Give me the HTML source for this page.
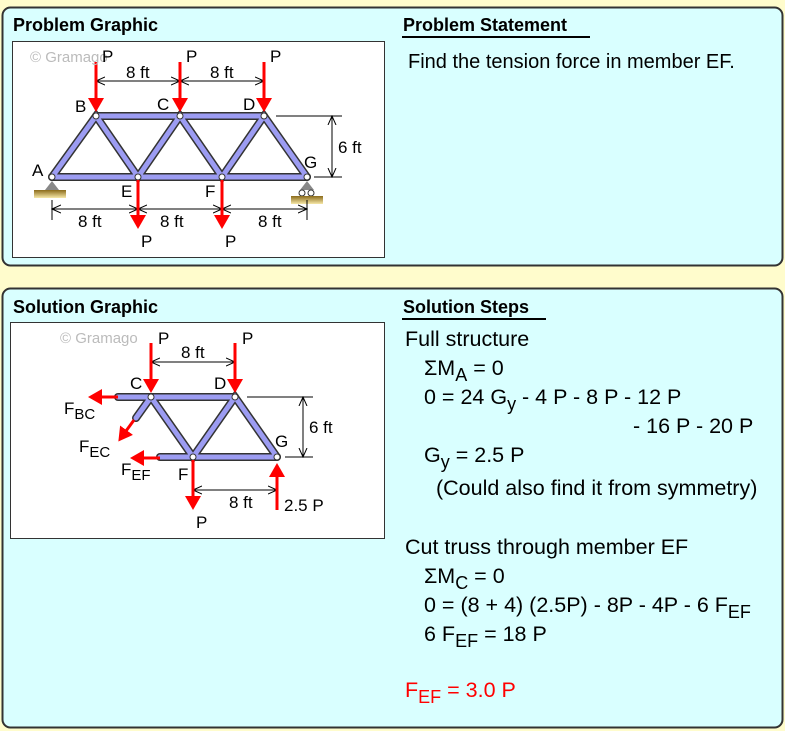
<!DOCTYPE html>
<html><head><meta charset="utf-8"><style>
html,body{margin:0;padding:0;background:#fffccc;}
svg{display:block;font-family:"Liberation Sans",Arial,sans-serif;}
</style></head><body>
<svg width="785" height="731" viewBox="0 0 785 731" xmlns="http://www.w3.org/2000/svg">
<defs>
<marker id="ah" markerWidth="10" markerHeight="10" refX="9" refY="5" orient="auto-start-reverse" markerUnits="userSpaceOnUse"><path d="M0,1 L9,5 L0,9" fill="none" stroke="#000" stroke-width="1"/></marker>
<marker id="rh" markerWidth="14" markerHeight="16" refX="1" refY="8" orient="auto" markerUnits="userSpaceOnUse"><path d="M0,0 L14,8 L0,16 z" fill="#f00"/></marker>
<linearGradient id="gr" x1="0" y1="0" x2="0" y2="1"><stop offset="0" stop-color="#8a6a1a"/><stop offset="1" stop-color="#f6e8a8"/></linearGradient>
</defs>
<rect width="785" height="731" fill="#fffccc"/>
<rect x="2.5" y="7.5" width="780" height="258" rx="8" fill="#d9ffff" stroke="#333" stroke-width="2"/>
<rect x="2.5" y="288.5" width="780" height="439" rx="8" fill="#d9ffff" stroke="#333" stroke-width="2"/>
<rect x="12.5" y="41.5" width="372" height="216" fill="#fff" stroke="#333" stroke-width="1"/>
<rect x="10.5" y="322.5" width="374" height="216" fill="#fff" stroke="#333" stroke-width="1"/>
<g font-weight="bold" font-size="18">
<text x="13" y="31">Problem Graphic</text>
<text x="403" y="31">Problem Statement</text>
<text x="13" y="313">Solution Graphic</text>
<text x="403" y="313">Solution Steps</text>
</g>
<rect x="402" y="36" width="188" height="2" fill="#000"/>
<rect x="402" y="318" width="144" height="2" fill="#000"/>
<text x="408" y="68" font-size="20">Find the tension force in member EF.</text>

<!-- Top truss -->
<g stroke-linecap="round">
<g stroke="#333" stroke-width="8">
<line x1="52" y1="177" x2="307" y2="177"/><line x1="96" y1="116" x2="264" y2="116"/>
<polyline points="52,177 96,116 138,177 180,116 222,177 264,116 307,177" fill="none"/>
</g>
<g stroke="#9c9cf2" stroke-width="5">
<line x1="52" y1="177" x2="307" y2="177"/><line x1="96" y1="116" x2="264" y2="116"/>
<polyline points="52,177 96,116 138,177 180,116 222,177 264,116 307,177" fill="none"/>
</g>
</g>
<g fill="#fff" stroke="#333" stroke-width="1">
<circle cx="52" cy="177" r="3"/><circle cx="138" cy="177" r="3"/><circle cx="222" cy="177" r="3"/><circle cx="307" cy="177" r="3"/>
<circle cx="96" cy="116" r="3"/><circle cx="180" cy="116" r="3"/><circle cx="264" cy="116" r="3"/>
</g>
<path d="M52,181 L45,190 L59,190z" fill="#888"/>
<rect x="34" y="190" width="32" height="8" fill="url(#gr)"/>
<path d="M307,181 L300,190 L314,190z" fill="#888"/>
<circle cx="302" cy="193" r="3" fill="#fff" stroke="#333"/><circle cx="311" cy="193" r="3" fill="#fff" stroke="#333"/>
<rect x="291" y="196" width="32" height="8" fill="url(#gr)"/>
<g stroke="#000" stroke-width="1">
<line x1="96" y1="81" x2="180" y2="81" marker-end="url(#ah)" marker-start="url(#ah)"/>
<line x1="180" y1="81" x2="264" y2="81" marker-end="url(#ah)" marker-start="url(#ah)"/>
<line x1="276" y1="116" x2="342" y2="116"/><line x1="314" y1="177" x2="342" y2="177"/>
<line x1="332" y1="116" x2="332" y2="177" marker-end="url(#ah)" marker-start="url(#ah)"/>
<line x1="52" y1="200" x2="52" y2="220"/><line x1="307" y1="200" x2="307" y2="220"/>
<line x1="52" y1="209" x2="138" y2="209" marker-end="url(#ah)" marker-start="url(#ah)"/>
<line x1="138" y1="209" x2="222" y2="209" marker-end="url(#ah)" marker-start="url(#ah)"/>
<line x1="222" y1="209" x2="307" y2="209" marker-end="url(#ah)" marker-start="url(#ah)"/>
</g>
<g stroke="#f00" stroke-width="3">
<line x1="96" y1="62" x2="96" y2="99" marker-end="url(#rh)"/>
<line x1="180" y1="62" x2="180" y2="99" marker-end="url(#rh)"/>
<line x1="264" y1="62" x2="264" y2="99" marker-end="url(#rh)"/>
<line x1="138" y1="180" x2="138" y2="216" marker-end="url(#rh)"/>
<line x1="222" y1="180" x2="222" y2="216" marker-end="url(#rh)"/>
</g>
<g font-size="17">
<text x="30" y="62" fill="#bbb" font-size="15">© Gramago</text>
<text x="102" y="62">P</text><text x="186" y="62">P</text><text x="270" y="62">P</text>
<text x="126" y="78">8 ft</text><text x="210" y="78">8 ft</text>
<text x="75" y="112">B</text><text x="157" y="110">C</text><text x="243" y="110">D</text>
<text x="32" y="176">A</text><text x="304" y="168">G</text>
<text x="121" y="197">E</text><text x="205" y="197">F</text>
<text x="338" y="153">6 ft</text>
<text x="78" y="227">8 ft</text><text x="160" y="227">8 ft</text><text x="258" y="227">8 ft</text>
<text x="141" y="247">P</text><text x="225" y="247">P</text>
</g>

<!-- Bottom truss -->
<g stroke-linecap="round">
<g stroke="#333" stroke-width="8">
<line x1="118" y1="397" x2="235" y2="397"/><line x1="160" y1="457" x2="277" y2="457"/>
<line x1="151" y1="397" x2="136" y2="418"/>
<polyline points="151,397 193,457 235,397 277,457" fill="none"/>
</g>
<g stroke="#9c9cf2" stroke-width="5">
<line x1="118" y1="397" x2="235" y2="397"/><line x1="160" y1="457" x2="277" y2="457"/>
<line x1="151" y1="397" x2="136" y2="418"/>
<polyline points="151,397 193,457 235,397 277,457" fill="none"/>
</g>
</g>
<g fill="#fff" stroke="#333" stroke-width="1">
<circle cx="151" cy="397" r="3"/><circle cx="235" cy="397" r="3"/><circle cx="193" cy="457" r="3"/><circle cx="277" cy="457" r="3"/>
</g>
<g stroke="#000" stroke-width="1">
<line x1="151" y1="362" x2="235" y2="362" marker-end="url(#ah)" marker-start="url(#ah)"/>
<line x1="247" y1="397" x2="313" y2="397"/><line x1="285" y1="457" x2="313" y2="457"/>
<line x1="303" y1="397" x2="303" y2="457" marker-end="url(#ah)" marker-start="url(#ah)"/>
<line x1="193" y1="490" x2="277" y2="490" marker-end="url(#ah)" marker-start="url(#ah)"/>
</g>
<g stroke="#f00" stroke-width="3">
<line x1="151" y1="343" x2="151" y2="380" marker-end="url(#rh)"/>
<line x1="235" y1="343" x2="235" y2="380" marker-end="url(#rh)"/>
<line x1="118" y1="397" x2="101" y2="397" marker-end="url(#rh)"/>
<line x1="134" y1="420" x2="126" y2="431" marker-end="url(#rh)"/>
<line x1="160" y1="458" x2="143" y2="458" marker-end="url(#rh)"/>
<line x1="193" y1="460" x2="193" y2="497" marker-end="url(#rh)"/>
<line x1="277" y1="510" x2="277" y2="476" marker-end="url(#rh)"/>
</g>
<g font-size="17">
<text x="60" y="343" fill="#bbb" font-size="15">© Gramago</text>
<text x="158" y="344">P</text><text x="242" y="344">P</text>
<text x="181" y="358">8 ft</text>
<text x="130" y="389">C</text><text x="214" y="389">D</text><text x="275" y="447">G</text>
<text x="64" y="414">F<tspan font-size="15" dy="5">BC</tspan></text>
<text x="79" y="452">F<tspan font-size="15" dy="5">EC</tspan></text>
<text x="121" y="475">F<tspan font-size="15" dy="5">EF</tspan></text>
<text x="178" y="480">F</text>
<text x="309" y="433">6 ft</text>
<text x="229" y="508">8 ft</text>
<text x="284" y="511">2.5 P</text>
<text x="196" y="528">P</text>
</g>

<!-- Solution steps -->
<g font-size="21.5">
<text x="405" y="346">Full structure</text>
<text x="424" y="375">ΣM<tspan font-size="18" dy="6">A</tspan><tspan dy="-6"> = 0</tspan></text>
<text x="424" y="404">0 = 24 G<tspan font-size="18" dy="6">y</tspan><tspan dy="-6"> - 4 P - 8 P - 12 P</tspan></text>
<text x="633" y="433">- 16 P - 20 P</text>
<text x="424" y="462">G<tspan font-size="18" dy="6">y</tspan><tspan dy="-6"> = 2.5 P</tspan></text>
<text x="436" y="495">(Could also find it from symmetry)</text>
<text x="405" y="554">Cut truss through member EF</text>
<text x="424" y="583">ΣM<tspan font-size="18" dy="6">C</tspan><tspan dy="-6"> = 0</tspan></text>
<text x="424" y="612">0 = (8 + 4) (2.5P) - 8P - 4P - 6 F<tspan font-size="18" dy="6">EF</tspan></text>
<text x="424" y="641">6 F<tspan font-size="18" dy="6">EF</tspan><tspan dy="-6"> = 18 P</tspan></text>
<text x="405" y="697" fill="#f00">F<tspan font-size="18" dy="6">EF</tspan><tspan dy="-6"> = 3.0 P</tspan></text>
</g>
</svg>
</body></html>
